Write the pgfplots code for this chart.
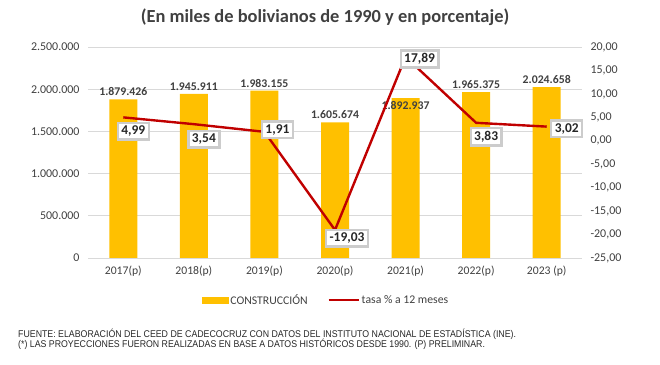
\documentclass[border=0pt]{standalone}
\usepackage{pgfplots}
\pgfplotsset{compat=1.18}
\usepackage{pgfplotstable}
\usepackage{fontspec}
\setmainfont{Carlito}
\newfontfamily\narrow{Liberation Sans}[FakeStretch=0.9]
\definecolor{barcol}{HTML}{FFC000}
\definecolor{linecol}{HTML}{C00000}
\definecolor{txt}{HTML}{404040}
\definecolor{gridc}{HTML}{D9D9D9}

\pgfplotstableread{
x y dy
0 1879426 0
1 1945911 0
2 1983155 0
3 1605674 0
4 1892937 -15
5 1965375 0
6 2024658 0
}\bars

\pgfplotstableread{
x y lab dx dy
0 4.99 4,99 10 -14
1 3.54 3,54 10 -15
2 1.91 1,91 13 2
3 -19.03 -19,03 12 -8
4 17.89 17,89 14 -2
5 3.83 3,83 10 -14
6 3.02 3,02 20 -2
}\rate

\begin{document}
\begin{tikzpicture}
\path[use as bounding box] (0,0) rectangle (660bp,365bp);
\node[font=\bfseries\fontsize{18.5}{21}\selectfont, text=txt] at (325bp,348bp) {(En miles de bolivianos de 1990 y en porcentaje)};

\begin{axis}[
  at={(88bp,107bp)}, anchor=south west,
  scale only axis, width=494bp, height=211bp,
  xmin=-0.5, xmax=6.5, ymin=0, ymax=2500000,
  xtick={0,...,6},
  xticklabels={2017(p),2018(p),2019(p),2020(p),2021(p),2022(p),2023 (p)},
  ytick={0,500000,...,2500000},
  scaled y ticks=false,
  yticklabel style={/pgf/number format/.cd, fixed, precision=0, 1000 sep={.}, /tikz/.cd, xshift=-5bp},
  xticklabel style={yshift=-4bp, font=\fontsize{11.7}{13}\selectfont},
  /pgf/number format/assume math mode=true,
  ticklabel style={font=\fontsize{12}{14}\selectfont, text=txt},
  axis line style={draw=none},
  major tick length=0pt,
  ymajorgrids, grid style={gridc, line width=0.8pt},
  clip=false,
]
\addplot[ybar, bar width=28bp, fill=barcol, draw=none,
  nodes near coords,
  visualization depends on={\thisrow{dy} \as \dyv},
  nodes near coords style={font=\bfseries\fontsize{11.8}{13}\selectfont, text=txt,
     /pgf/number format/.cd, fixed, precision=0, 1000 sep={.}, /tikz/.cd, yshift=\dyv bp},
] table[x=x, y=y] {\bars};
\end{axis}

\begin{axis}[
  at={(88bp,107bp)}, anchor=south west,
  scale only axis, width=494bp, height=211bp,
  xmin=-0.5, xmax=6.5, ymin=-25, ymax=20,
  axis y line*=right, axis x line=none,
  ytick={-25,-20,...,20},
  yticklabel style={/pgf/number format/.cd, fixed, fixed zerofill, precision=2, use comma, /tikz/.cd, xshift=5bp},
  /pgf/number format/assume math mode=true,
  ticklabel style={font=\fontsize{12}{14}\selectfont, text=txt},
  axis line style={draw=none},
  major tick length=0pt,
  clip=false,
  legend style={at={(0.482,-0.199)}, anchor=center, draw=none, fill=none,
     font=\fontsize{11.8}{13}\selectfont, text=txt, legend columns=2,
     nodes={inner xsep=2bp},
     /tikz/every even column/.append style={column sep=18bp}},
]
\addlegendimage{legend image code/.code={\fill[barcol] (0bp,-3bp) rectangle (26bp,3bp);}}
\addlegendentry{CONSTRUCCIÓN}
\addplot[linecol, line width=2.4pt, mark=none,
  nodes near coords,
  point meta=explicit symbolic,
  visualization depends on={\thisrow{dx} \as \dxv},
  visualization depends on={\thisrow{dy} \as \dyv},
  nodes near coords style={anchor=center, font=\bfseries\fontsize{13.5}{15}\selectfont, text=black!85,
     fill=white, draw=gray!40, inner xsep=3.5pt, inner ysep=3pt, xshift=\dxv bp, yshift=\dyv bp},
  legend image code/.code={\draw[linecol, line width=2pt] (0bp,0bp) -- (30bp,0bp);},
] table[x=x, y=y, meta=lab] {\rate};
\addlegendentry{tasa \% a 12 meses}
\end{axis}

\node[anchor=west, font=\narrow\fontsize{9.8}{11}\selectfont, text=black!85, inner sep=0pt] at (18bp,31bp) {FUENTE: ELABORACIÓN DEL CEED DE CADECOCRUZ CON DATOS DEL INSTITUTO NACIONAL DE ESTADÍSTICA (INE).};
\node[anchor=west, font=\narrow\fontsize{9.8}{11}\selectfont, text=black!85, inner sep=0pt] at (18bp,21bp) {(*) LAS PROYECCIONES FUERON REALIZADAS EN BASE A DATOS HISTÓRICOS DESDE 1990. (P) PRELIMINAR.};
\end{tikzpicture}
\end{document}
